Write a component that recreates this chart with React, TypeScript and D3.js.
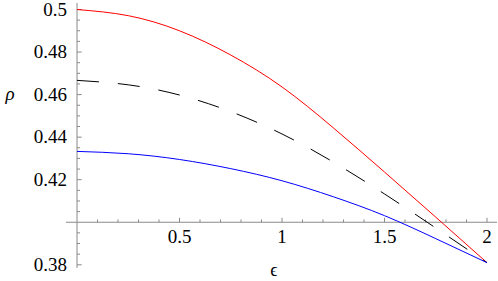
import React from 'react';
import * as d3 from 'd3';

// values
const epsilons = [0, 0.25, 0.5, 0.75, 1.0, 1.25, 1.5, 1.75, 2.0];
const redValues = [0.5, 0.4971, 0.49, 0.4786, 0.4636, 0.4444, 0.4236, 0.4024, 0.381];
const dashedValues = [0.4667, 0.4646, 0.4598, 0.452, 0.4415, 0.4283, 0.4133, 0.3973, 0.381];
const blueValues = [0.4333, 0.4322, 0.4295, 0.4252, 0.4195, 0.412, 0.4031, 0.3923, 0.381];

const xTickLabels = ['0.5', '1', '1.5', '2'];
const yTickLabels = ['0.38', '0.42', '0.44', '0.46', '0.48', '0.5'];

const W = 498;
const H = 281;
const FONT = "'Liberation Serif', 'Times New Roman', Times, 'DejaVu Serif', serif";

const App: React.FC = () => {
  const x = d3.scaleLinear().domain([0, 2]).range([77, 487]);
  const y = d3.scaleLinear().domain([0.38, 0.5]).range([264.8, 9.5]);
  const axisY = y(0.4);
  const axisX = x(0);

  const line = d3
    .line<number>()
    .x((_, i) => x(epsilons[i]))
    .y((d) => y(d))
    .curve(d3.curveNatural);

  const xMinor = d3.range(1, 21).map((i) => i / 10);
  const yMinor = d3.range(-1, 25).map((i) => 0.38 + i * 0.005);
  const txt = { fontFamily: FONT, fontSize: 19, fill: '#000' };

  return (
    <svg
      width={W}
      height={H}
      style={{ position: 'absolute', left: 0, top: 0, background: '#fff' }}
    >
      {/* axes */}
      <line x1={66} x2={497} y1={axisY} y2={axisY} stroke="#8a8a8a" strokeWidth={1} />
      <line x1={axisX} x2={axisX} y1={3} y2={268} stroke="#8a8a8a" strokeWidth={1} />

      {xMinor.map((v) => {
        const major = Math.abs(v * 2 - Math.round(v * 2)) < 1e-6;
        return (
          <line
            key={'xt' + v}
            x1={x(v)}
            x2={x(v)}
            y1={axisY}
            y2={axisY - (major ? 4.5 : 2.8)}
            stroke="#8a8a8a"
            strokeWidth={1}
          />
        );
      })}
      {yMinor
        .filter((v) => y(v) > 2 && y(v) < 268 && Math.abs(v - 0.4) > 1e-6)
        .map((v) => {
          const major = Math.abs(v * 50 - Math.round(v * 50)) < 1e-6;
          return (
            <line
              key={'yt' + v}
              x1={axisX}
              x2={axisX + (major ? 4.7 : 3)}
              y1={y(v)}
              y2={y(v)}
              stroke="#8a8a8a"
              strokeWidth={1}
            />
          );
        })}

      {xTickLabels.map((t) => (
        <text key={'xl' + t} x={x(+t)} y={243} textAnchor="middle" style={txt}>
          {t}
        </text>
      ))}
      {yTickLabels.map((t) => (
        <text key={'yl' + t} x={67} y={y(+t)} dy="0.33em" textAnchor="end" style={txt}>
          {t}
        </text>
      ))}

      {/* axis labels */}
      <text x={10} y={100} textAnchor="middle" style={{ ...txt, fontStyle: 'italic' }}>
        ρ
      </text>
      <text x={274} y={276} textAnchor="middle" style={{ ...txt, fontSize: 18 }}>
        ϵ
      </text>

      {/* curves */}
      <path d={line(redValues) || ''} fill="none" stroke="#ff0000" strokeWidth={1} />
      <path
        d={line(dashedValues) || ''}
        fill="none"
        stroke="#000"
        strokeWidth={1}
        strokeDasharray="22 19"
      />
      <path d={line(blueValues) || ''} fill="none" stroke="#0000ff" strokeWidth={1} />
    </svg>
  );
};

export default App;
